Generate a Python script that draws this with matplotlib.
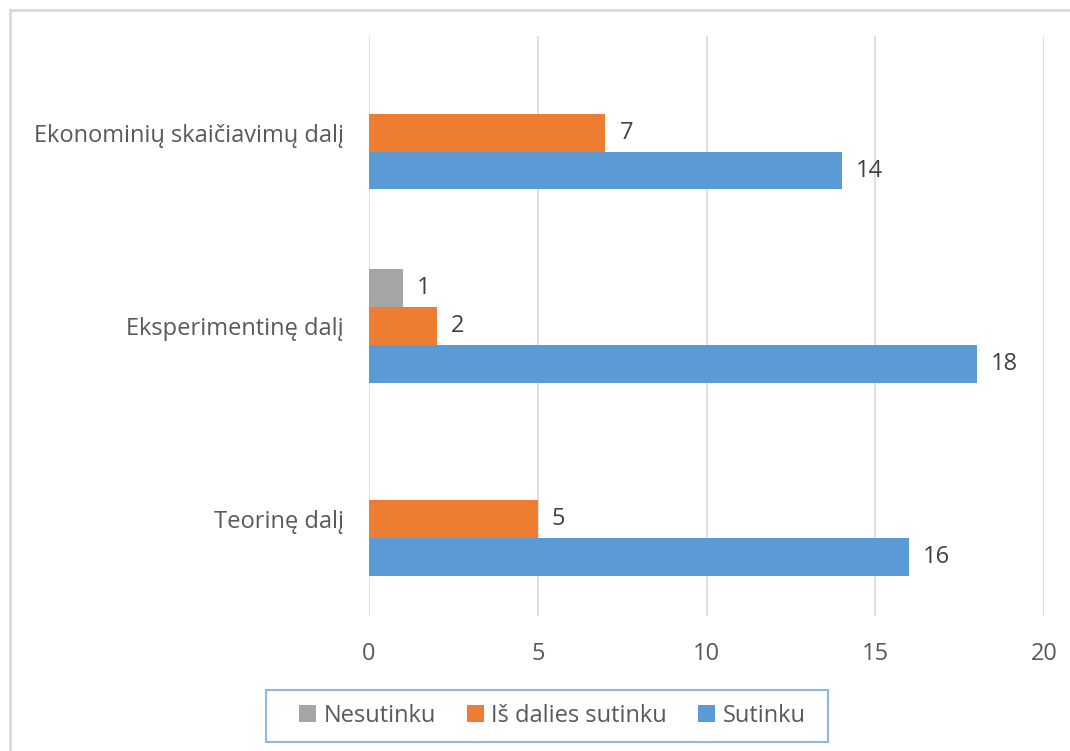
import numpy as np
import matplotlib
matplotlib.use('Agg')
import matplotlib.pyplot as plt
from matplotlib.lines import Line2D
from matplotlib.patches import Rectangle

plt.rcParams['font.family'] = ['Open Sans', 'DejaVu Sans']

categories = ["Teorinę dalį", "Eksperimentinę dalį", "Ekonominių skaičiavimų dalį"]
series_names = ["Nesutinku", "Iš dalies sutinku", "Sutinku"]
nesutinku = [0, 1, 0]
is_dalies = [5, 2, 7]
sutinku = [16, 18, 14]
colors = ["#A5A5A5", "#ED7D31", "#5B9BD5"]
x_ticks = [0, 5, 10, 15, 20]

fig = plt.figure(figsize=(10.7, 7.51), dpi=100)
ax = fig.add_axes([0.3449, 0.18, 0.6308, 0.772])

y = np.arange(len(categories))
h = 0.196
offsets = [h, 0, -h]
all_vals = [nesutinku, is_dalies, sutinku]

for vals, off, col, name in zip(all_vals, offsets, colors, series_names):
    bars = ax.barh(y + off, vals, height=h, color=col, label=name, zorder=3)
    for b, v in zip(bars, vals):
        if v == 0:
            continue
        ax.text(b.get_width() + 0.42, b.get_y() + h / 2, str(v),
                va='center', ha='left', fontsize=17, color='#404040')

ax.set_xlim(0, 20)
ax.set_ylim(-0.5, 2.5)
ax.set_xticks(x_ticks)
ax.set_yticks(y)
ax.set_yticklabels(categories)
ax.tick_params(axis='both', length=0, labelsize=17, labelcolor='#595959')
ax.tick_params(axis='x', pad=19)
ax.tick_params(axis='y', pad=18)
ax.grid(axis='x', color='#D9D9D9', linewidth=1.2, zorder=0)
for s in ax.spines.values():
    s.set_visible(False)

handles, labels = ax.get_legend_handles_labels()
leg = fig.legend(handles, labels, loc='center', bbox_to_anchor=(0.516, 0.0466),
                 ncol=3, fontsize=17, frameon=False,
                 handlelength=0.75, handleheight=0.75, handletextpad=0.3,
                 columnspacing=1.3, borderpad=0.45)
for t in leg.get_texts():
    t.set_color('#595959')

# legend frame
fig.add_artist(Rectangle((266 / 1070, 1 - 742 / 751), 562 / 1070, 52 / 751,
                         fill=False, edgecolor='#8FB8E4', linewidth=1.5,
                         transform=fig.transFigure))

# outer chart border (only top and left visible)
fig.add_artist(Line2D([0.0095, 1.0], [0.987, 0.987], color='#D9D9D9', lw=2,
                      transform=fig.transFigure))
fig.add_artist(Line2D([0.0098, 0.0098], [0.0, 0.987], color='#D9D9D9', lw=2,
                      transform=fig.transFigure))

fig.savefig('out.png', dpi=100)
